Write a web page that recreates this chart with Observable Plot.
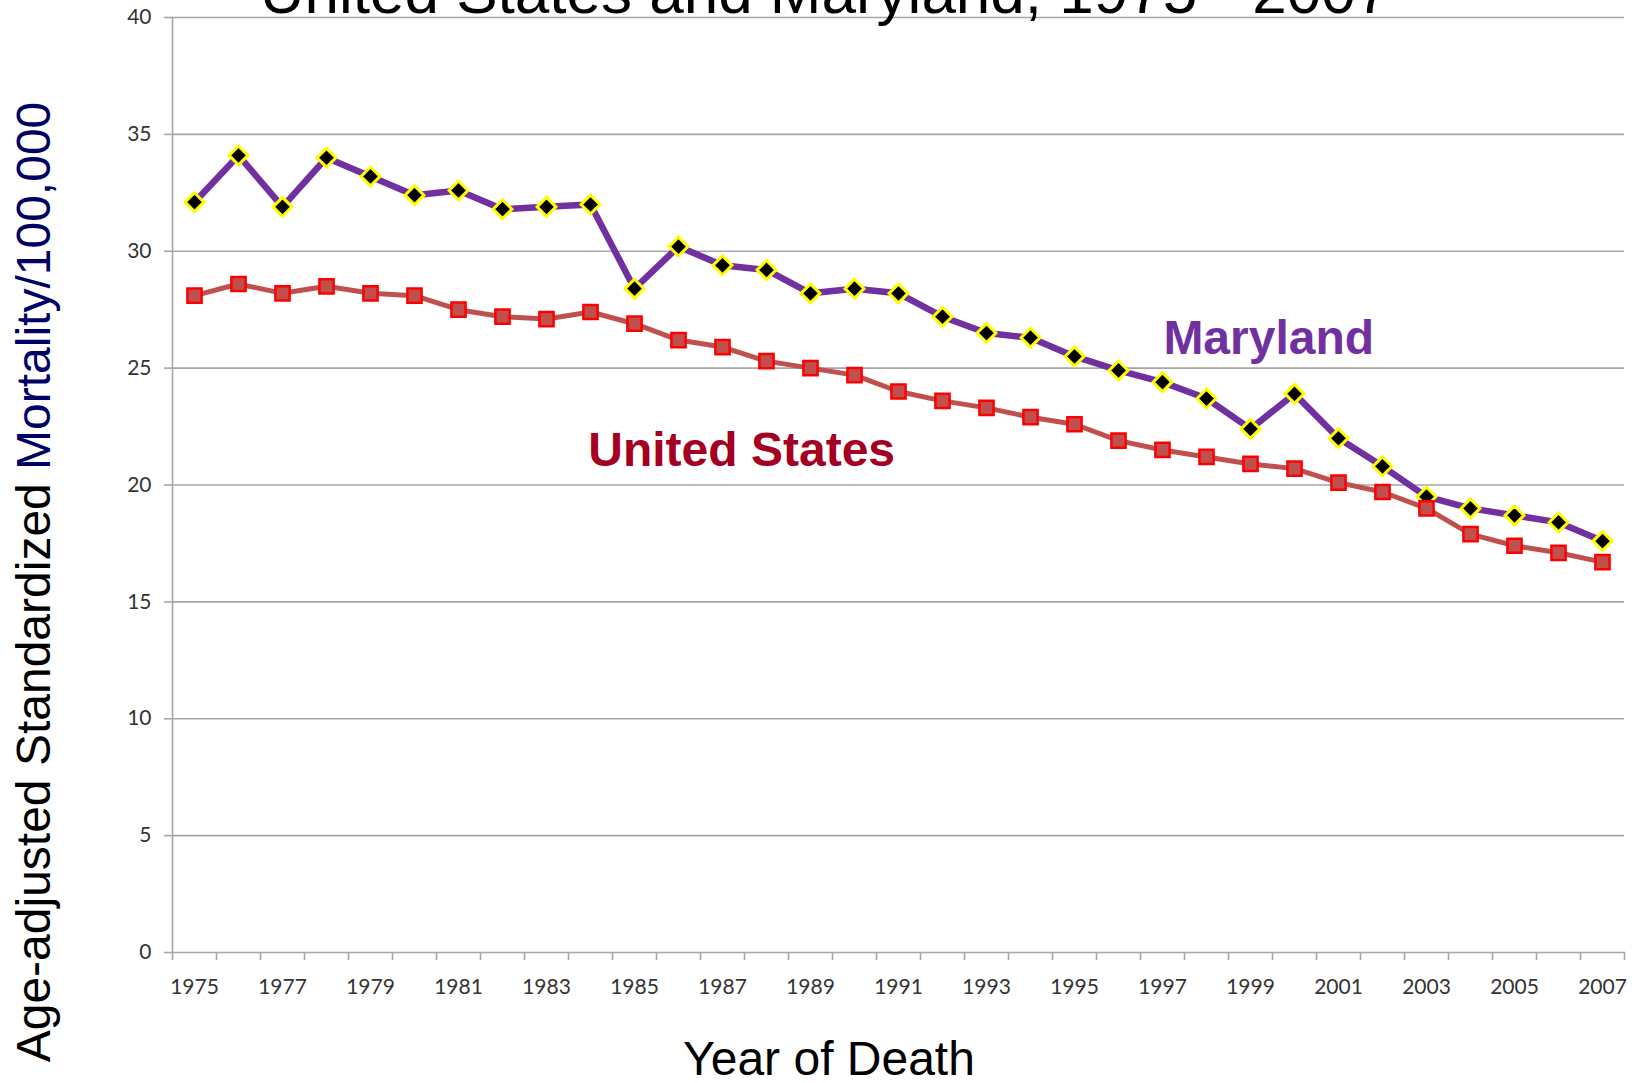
<!DOCTYPE html>
<html>
<head>
<meta charset="utf-8">
<script src="https://cdn.jsdelivr.net/npm/d3@7"></script>
<script src="https://cdn.jsdelivr.net/npm/@observablehq/plot@0.6"></script>
<style>
  html, body { margin: 0; padding: 0; background: #fff; }
  #wrap { position: relative; width: 1638px; height: 1083px; overflow: hidden; }
  #overlay { position: absolute; left: 0; top: 0; pointer-events: none; }
</style>
</head>
<body>
<div id="wrap">
  <div id="chart"></div>
  <svg id="overlay" width="1638" height="1083" xmlns="http://www.w3.org/2000/svg">
    <text x="825" y="13" text-anchor="middle" font-family="Liberation Sans, Arial, sans-serif" font-size="62" fill="#000">United States and Maryland, 1975 - 2007</text>
    <text x="829" y="1075" text-anchor="middle" font-family="Liberation Sans, Arial, sans-serif" font-size="48" fill="#000">Year of Death</text>
    <text transform="translate(50,582) rotate(-90)" text-anchor="middle" font-family="Liberation Sans, Arial, sans-serif" font-size="48"><tspan fill="#000">Age-adjusted Standardized </tspan><tspan fill="#000066">Mortality/100,000</tspan></text>
  </svg>
</div>
<script>
const years = d3.range(1975, 2008);
const maryland = [32.1, 34.1, 31.9, 34.0, 33.2, 32.4, 32.6, 31.8, 31.9, 32.0,
                  28.4, 30.2, 29.4, 29.2, 28.2, 28.4, 28.2, 27.2, 26.5, 26.3,
                  25.5, 24.9, 24.4, 23.7, 22.4, 23.9, 22.0, 20.8, 19.5, 19.0,
                  18.7, 18.4, 17.6];
const unitedStates = [28.1, 28.6, 28.2, 28.5, 28.2, 28.1, 27.5, 27.2, 27.1, 27.4,
                      26.9, 26.2, 25.9, 25.3, 25.0, 24.7, 24.0, 23.6, 23.3, 22.9,
                      22.6, 21.9, 21.5, 21.2, 20.9, 20.7, 20.1, 19.7, 19.0, 17.9,
                      17.4, 17.1, 16.7];
const yTicks = [0, 5, 10, 15, 20, 25, 30, 35, 40];
const xTickLabels = years.filter(y => y % 2 === 1);

const mdData = years.map((year, i) => ({year, value: maryland[i]}));
const usData = years.map((year, i) => ({year, value: unitedStates[i]}));
const boundaries = years.map(y => y - 0.5).concat([years[years.length - 1] + 0.5]);

const grid = "#a6a6a6";
const tickFont = "Lato, 'Open Sans', sans-serif";

const chart = Plot.plot({
  width: 1638,
  height: 1083,
  marginLeft: 172,
  marginRight: 14,
  marginTop: 17,
  marginBottom: 131,
  style: {background: "transparent", overflow: "visible"},
  x: {type: "linear", domain: [years[0] - 0.5, years[years.length - 1] + 0.5]},
  y: {domain: [0, 40]},
  marks: [
    Plot.gridY(yTicks.filter(d => d > 0), {stroke: grid, strokeOpacity: 1, strokeWidth: 1.6}),
    Plot.frame({anchor: "left", stroke: grid, strokeWidth: 1.6}),
    Plot.frame({anchor: "bottom", stroke: grid, strokeWidth: 1.6}),
    Plot.axisY(yTicks, {tickSize: 8, tickPadding: 13, stroke: grid, strokeWidth: 1.6,
      fontSize: 21, fontFamily: tickFont, fill: "#333", label: null}),
    Plot.axisX(boundaries, {tickSize: 8, stroke: grid, strokeWidth: 1.6,
      tickFormat: () => "", label: null}),
    Plot.axisX(xTickLabels, {tickSize: 0, tickPadding: 27, fontSize: 21, fontFamily: tickFont,
      fill: "#333", tickFormat: d => String(d), label: null}),
    Plot.line(mdData, {x: "year", y: "value", stroke: "#7030A0", strokeWidth: 6.5}),
    Plot.dot(mdData, {x: "year", y: "value", symbol: "diamond2", r: 8.5,
      fill: "#000", stroke: "#FFFF00", strokeWidth: 3}),
    Plot.line(usData, {x: "year", y: "value", stroke: "#C0504D", strokeWidth: 5}),
    Plot.dot(usData, {x: "year", y: "value", symbol: "square", r: 8,
      fill: "#C0504D", stroke: "#FF0000", strokeWidth: 2.5}),
    Plot.text(["Maryland"], {x: 1997.02, y: 25.6, text: d => d, textAnchor: "start", lineAnchor: "bottom",
      fontSize: 48, fontWeight: "bold", fontFamily: "Liberation Sans, Arial, sans-serif", fill: "#7030A0"}),
    Plot.text(["United States"], {x: 1983.95, y: 20.8, text: d => d, textAnchor: "start", lineAnchor: "bottom",
      fontSize: 48, fontWeight: "bold", fontFamily: "Liberation Sans, Arial, sans-serif", fill: "#A50021"})
  ]
});
document.getElementById("chart").appendChild(chart);
</script>
</body>
</html>
